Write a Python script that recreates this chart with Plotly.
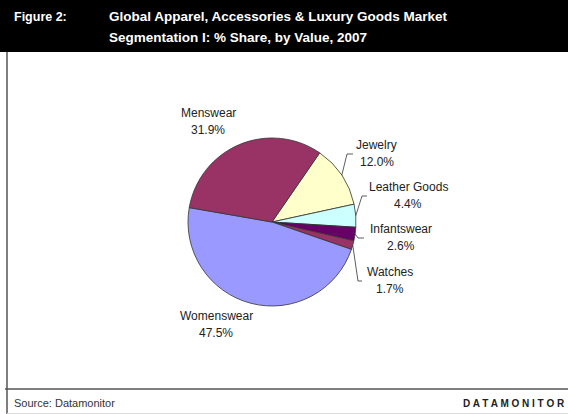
import math
import plotly.graph_objects as go

# ---- data ----
categories = ["Jewelry", "Leather Goods", "Infantswear", "Watches", "Womenswear", "Menswear"]
shares = [12.0, 4.4, 2.6, 1.7, 47.5, 31.9]
colors = ["#FFFFCC", "#CCFFFF", "#660066", "#993366", "#9999FF", "#993366"]

title_lines = ["Global Apparel, Accessories & Luxury Goods Market",
               "Segmentation I: % Share, by Value, 2007"]
figure_no = "Figure 2:"
source = "Source: Datamonitor"
brand = "D A T A M O N I T O R"

# ---- layout (pixels) ----
W, H = 568, 414
CX, CY, R = 272, 222, 84
ROT = 34.6
FONT = "Liberation Sans, Arial, sans-serif"

# label centre x, first-line y; optional leader elbow (x, y, end_x)
LABEL_POS = {
    "Jewelry": (377, 145, (347, 154, 353)),
    "Leather Goods": (408, 187, (362, 196, 367)),
    "Infantswear": (401, 229, (358, 238, 364)),
    "Watches": (390, 272, (358, 281, 362)),
    "Womenswear": (216, 316, None),
    "Menswear": (208, 113, None),
}


def px(x):
    return x / W


def py(y):
    return 1 - y / H


fig = go.Figure(go.Pie(
    labels=categories, values=shares, sort=False, direction="clockwise",
    rotation=ROT,
    marker=dict(colors=colors, line=dict(color="#333333", width=0.8)),
    textinfo="none", hoverinfo="label+percent", showlegend=False,
    domain=dict(x=[px(CX - R), px(CX + R)], y=[py(CY + R), py(CY - R)]),
))

annotations = []
shapes = []

# header
shapes.append(dict(type="rect", xref="paper", yref="paper", x0=0, x1=1,
                   y0=py(52), y1=1, fillcolor="black", line=dict(width=0)))
annotations.append(dict(xref="paper", yref="paper", x=px(12), y=py(17), text=f"<b>{figure_no}</b>",
                        showarrow=False, xanchor="left", yanchor="middle",
                        font=dict(family=FONT, size=12.5, color="white")))
for i, line in enumerate(title_lines):
    annotations.append(dict(xref="paper", yref="paper", x=px(107), y=py(17 + 21 * i),
                            text=f"<b>{line}</b>", showarrow=False, xanchor="left",
                            yanchor="middle", font=dict(family=FONT, size=13.5, color="white")))

# borders
shapes.append(dict(type="line", xref="paper", yref="paper", x0=px(7), x1=px(7),
                   y0=py(52), y1=0, line=dict(color="#555555", width=1.5)))
shapes.append(dict(type="line", xref="paper", yref="paper", x0=px(5), x1=1,
                   y0=py(389), y1=py(389), line=dict(color="#555555", width=1.5)))
shapes.append(dict(type="line", xref="paper", yref="paper", x0=px(7), x1=1,
                   y0=py(413.5), y1=py(413.5), line=dict(color="#dddddd", width=1)))

# footer
annotations.append(dict(xref="paper", yref="paper", x=px(12), y=py(403), text=source,
                        showarrow=False, xanchor="left", yanchor="middle",
                        font=dict(family=FONT, size=11, color="#333333")))
annotations.append(dict(xref="paper", yref="paper", x=px(567), y=py(403), text=f"<b>{brand}</b>",
                        showarrow=False, xanchor="right", yanchor="middle",
                        font=dict(family=FONT, size=10, color="#222222")))

# pie labels and leaders
total = sum(shares)
cum = 0.0
for name, val in zip(categories, shares):
    mid = math.radians(ROT + 360.0 * (cum + val / 2) / total)
    cum += val
    lx, ly, leader = LABEL_POS[name]
    for j, t in enumerate([name, f"{val:.1f}%"]):
        annotations.append(dict(xref="paper", yref="paper", x=px(lx), y=py(ly + 17 * j),
                                text=t, showarrow=False, xanchor="center", yanchor="middle",
                                font=dict(family=FONT, size=12, color="#222222")))
    if leader:
        ex, ey = CX + R * math.sin(mid), CY - R * math.cos(mid)
        bx, by, endx = leader
        shapes.append(dict(type="line", xref="paper", yref="paper", x0=px(ex), y0=py(ey),
                           x1=px(bx), y1=py(by), line=dict(color="#333333", width=0.8)))
        shapes.append(dict(type="line", xref="paper", yref="paper", x0=px(bx), y0=py(by),
                           x1=px(endx), y1=py(by), line=dict(color="#333333", width=0.8)))

fig.update_layout(
    width=W, height=H, margin=dict(l=0, r=0, t=0, b=0),
    paper_bgcolor="white", plot_bgcolor="white",
    annotations=annotations, shapes=shapes,
)

fig.write_html("out.html")
